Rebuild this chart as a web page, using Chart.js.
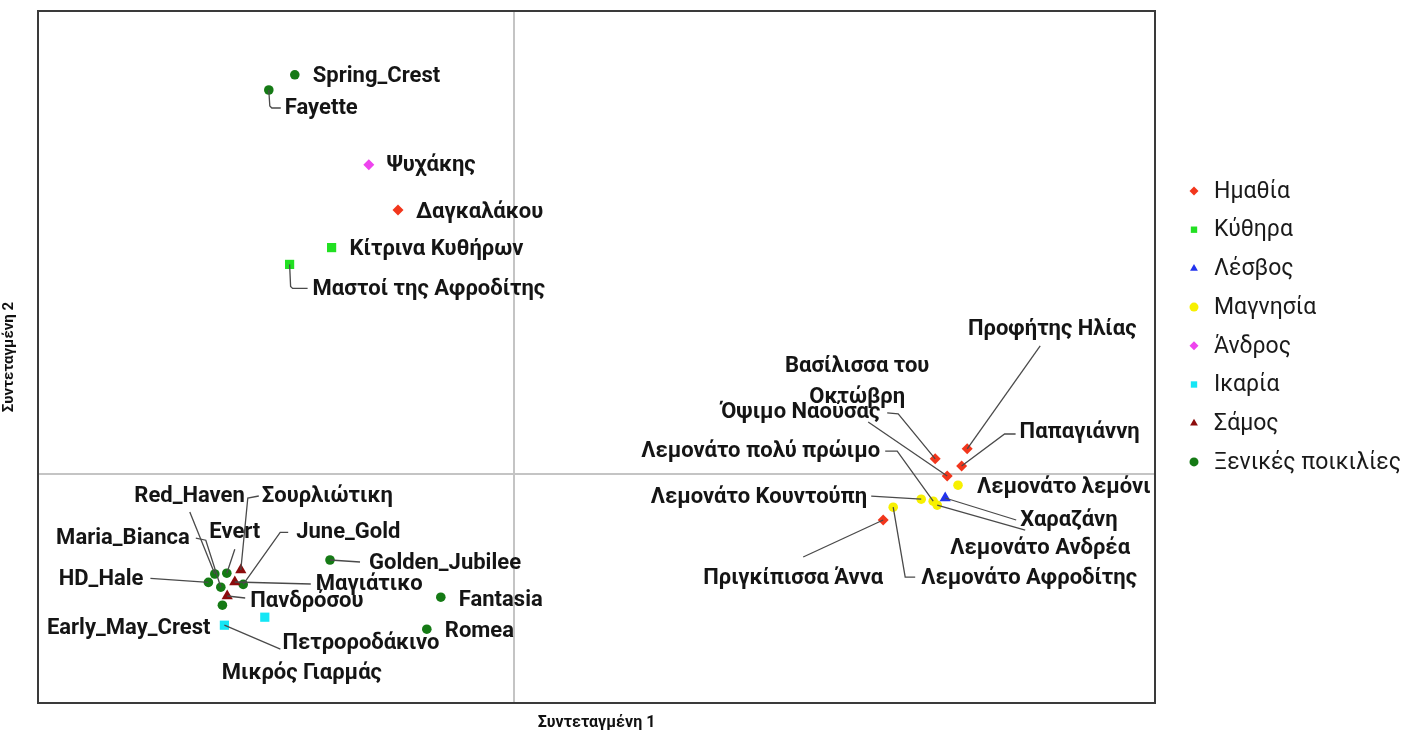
<!DOCTYPE html>
<html>
<head>
<meta charset="utf-8">
<script src="https://cdn.jsdelivr.net/npm/chart.js@4.4.1/dist/chart.umd.min.js"></script>
<style>
	html, body { margin: 0; padding: 0; background: #fff; }
</style>
</head>
<body>
<canvas id="grafica" width="1410" height="733"></canvas>
<script>
// grupos (leyenda)
const grupos = ['Ημαθία', 'Κύθηρα', 'Λέσβος', 'Μαγνησία', 'Άνδρος', 'Ικαρία', 'Σάμος', 'Ξενικές ποικιλίες'];

// valores por grupo: Συντεταγμένη 1 (x), Συντεταγμένη 2 (y)
const imathiaNombres = ['Δαγκαλάκου', 'Προφήτης Ηλίας', 'Όψιμο Ναούσας', 'Παπαγιάννη', 'Βασίλισσα του Οκτώβρη', 'Πριγκίπισσα Άννα'];
const imathiaX = [-0.290, 1.133, 1.053, 1.119, 1.083, 0.923];
const imathiaY = [0.660, 0.063, 0.038, 0.020, -0.005, -0.115];

const kythiraNombres = ['Κίτρινα Κυθήρων', 'Μαστοί της Αφροδίτης'];
const kythiraX = [-0.456, -0.561];
const kythiraY = [0.566, 0.524];

const lesvosNombres = ['Χαραζάνη'];
const lesvosX = [1.078];
const lesvosY = [-0.060];

const magnisiaNombres = ['Λεμονάτο λεμόνι', 'Λεμονάτο Κουντούπη', 'Λεμονάτο πολύ πρώιμο', 'Λεμονάτο Ανδρέα', 'Λεμονάτο Αφροδίτης'];
const magnisiaX = [1.110, 1.018, 1.048, 1.058, 0.948];
const magnisiaY = [-0.028, -0.063, -0.068, -0.078, -0.083];

const androsNombres = ['Ψυχάκης'];
const androsX = [-0.363];
const androsY = [0.773];

const ikariaNombres = ['Πετροροδάκινο', 'Μικρός Γιαρμάς'];
const ikariaX = [-0.724, -0.623];
const ikariaY = [-0.378, -0.358];

const samosNombres = ['Σουρλιώτικη', 'Μαγιάτικο', 'Πανδρόσου'];
const samosX = [-0.683, -0.698, -0.717];
const samosY = [-0.240, -0.270, -0.305];

const xenikesNombres = ['Spring_Crest', 'Fayette', 'Red_Haven', 'Evert', 'HD_Hale', 'June_Gold', 'Maria_Bianca', 'Early_May_Crest', 'Golden_Jubilee', 'Fantasia', 'Romea'];
const xenikesX = [-0.548, -0.613, -0.748, -0.718, -0.764, -0.677, -0.733, -0.729, -0.460, -0.183, -0.218];
const xenikesY = [0.998, 0.960, -0.250, -0.248, -0.271, -0.276, -0.283, -0.328, -0.215, -0.308, -0.388];

// estilo de cada grupo
const colores = ['#f2361c', '#22e022', '#2233ee', '#f7f000', '#ee44ee', '#14e6f5', '#8c0c0c', '#157a15'];
const simbolos = ['rectRot', 'rect', 'triangle', 'circle', 'rectRot', 'rect', 'triangle', 'circle'];
const radios = [5.5, 6.5, 6.5, 4.8, 5.5, 6.5, 6.5, 4.8];

// posicion de etiquetas: [dx, dy, alineacion, linea guia]
const etiquetasPos = {
	'Spring_Crest': [18, 2, 'left'],
	'Fayette': [16, 18, 'left', [[1, 16], [3, 18], [12, 18]]],
	'Ψυχάκης': [18, 1, 'left'],
	'Δαγκαλάκου': [18, 2, 'left'],
	'Κίτρινα Κυθήρων': [18, 2, 'left'],
	'Μαστοί της Αφροδίτης': [23, 25, 'left', [[1, 22], [3, 24], [18, 24]]],
	'Προφήτης Ηλίας': [85, -119, 'center', [[73, -103]]],
	'Όψιμο Ναούσας': [-55, -46, 'right', [[-37, -45], [-48, -46]]],
	'Βασίλισσα του Οκτώβρη': [-90, -110, 'center', [[-79, -54]]],
	'Παπαγιάννη': [58, -34, 'left', [[43, -32], [54, -32]]],
	'Λεμονάτο πολύ πρώιμο': [-53, -50, 'right', [[-36, -50], [-48, -50]]],
	'Λεμονάτο λεμόνι': [19, 2, 'left'],
	'Λεμονάτο Κουντούπη': [-54, -2, 'right', [[-50, -3]]],
	'Χαραζάνη': [75, 22, 'left', [[71, 22]]],
	'Λεμονάτο Ανδρέα': [103, 43, 'center', [[88, 25]]],
	'Λεμονάτο Αφροδίτης': [28, 71, 'left', [[12, 70], [22, 70]]],
	'Πριγκίπισσα Άννα': [-90, 58, 'center', [[-80, 37]]],
	'Red_Haven': [30, -78, 'right', [[-25, -62]]],
	'Σουρλιώτικη': [21, -74, 'left', [[7, -72], [18, -74]]],
	'Maria_Bianca': [-31, -49, 'right', [[-15, -47], [-25, -49]]],
	'Evert': [8, -41, 'center', [[8, -24]]],
	'June_Gold': [53, -52, 'left', [[37, -52], [45, -52]]],
	'Golden_Jubilee': [39, 3, 'left', [[30, 2]]],
	'HD_Hale': [-65, -3, 'right', [[-58, -4]]],
	'Μαγιάτικο': [81, 2, 'left', [[76, 2]]],
	'Πανδρόσου': [23, 5, 'left', [[18, 2]]],
	'Early_May_Crest': [-12, 23, 'right'],
	'Πετροροδάκινο': [58, 18, 'left', [[56, 24]]],
	'Μικρός Γιαρμάς': [37, 56, 'center'],
	'Fantasia': [18, 3, 'left'],
	'Romea': [18, 2, 'left'],
};
const saltos = { 'Βασίλισσα του Οκτώβρη': ['Βασίλισσα του', 'Οκτώβρη'] };

const nombres = [imathiaNombres, kythiraNombres, lesvosNombres, magnisiaNombres, androsNombres, ikariaNombres, samosNombres, xenikesNombres];
const valoresX = [imathiaX, kythiraX, lesvosX, magnisiaX, androsX, ikariaX, samosX, xenikesX];
const valoresY = [imathiaY, kythiraY, lesvosY, magnisiaY, androsY, ikariaY, samosY, xenikesY];

const datasets = grupos.map((g, i) => ({
	label: g,
	data: valoresX[i].map((x, j) => ({ x: x, y: valoresY[i][j], nombre: nombres[i][j] })),
	backgroundColor: colores[i],
	borderColor: colores[i],
	borderWidth: 0,
	pointStyle: simbolos[i],
	pointRadius: radios[i],
}));

const marco = {
	id: 'marco',
	beforeDatasetsDraw(chart) {
		const ctx = chart.ctx;
		const a = chart.chartArea;
		const x0 = chart.scales.x.getPixelForValue(0);
		const y0 = chart.scales.y.getPixelForValue(0);
		ctx.save();
		ctx.strokeStyle = '#c4c4c4';
		ctx.lineWidth = 2;
		ctx.beginPath();
		ctx.moveTo(x0, a.top);
		ctx.lineTo(x0, a.bottom);
		ctx.moveTo(a.left, y0);
		ctx.lineTo(a.right, y0);
		ctx.stroke();
		ctx.restore();
	},
	afterDraw(chart) {
		const ctx = chart.ctx;
		const a = chart.chartArea;
		ctx.save();
		ctx.strokeStyle = '#3a3a3a';
		ctx.lineWidth = 2;
		ctx.strokeRect(a.left, a.top, a.right - a.left, a.bottom - a.top);

		// leyenda
		ctx.font = '23px Roboto';
		ctx.textBaseline = 'middle';
		ctx.textAlign = 'left';
		grupos.forEach((g, i) => {
			const y = 191 + i * 38.7;
			ctx.fillStyle = colores[i];
			Chart.helpers.drawPoint(ctx, { pointStyle: simbolos[i], radius: 4.5, rotation: 0, borderWidth: 0 }, 1194, y);
			ctx.fillStyle = '#1a1a1a';
			ctx.fillText(g, 1214, y + 1);
		});
		ctx.restore();
	},
};

const etiquetas = {
	id: 'etiquetas',
	afterDatasetsDraw(chart) {
		const ctx = chart.ctx;
		const a = chart.chartArea;
		ctx.save();
		ctx.beginPath();
		ctx.rect(a.left + 1, a.top, a.right - a.left - 1, a.bottom - a.top);
		ctx.clip();
		ctx.font = 'bold 22px Roboto';
		ctx.textBaseline = 'middle';
		chart.data.datasets.forEach((ds, d) => {
			const meta = chart.getDatasetMeta(d);
			meta.data.forEach((pt, i) => {
				const nombre = ds.data[i].nombre;
				const pos = etiquetasPos[nombre];
				if (!pos) return;
				if (pos[3]) {
					ctx.strokeStyle = '#4a4a4a';
					ctx.lineWidth = 1.3;
					ctx.beginPath();
					ctx.moveTo(pt.x, pt.y);
					pos[3].forEach((p) => ctx.lineTo(pt.x + p[0], pt.y + p[1]));
					ctx.stroke();
				}
				ctx.fillStyle = '#151515';
				ctx.textAlign = pos[2];
				const lineas = saltos[nombre] || [nombre];
				lineas.forEach((t, k) => ctx.fillText(t, pt.x + pos[0], pt.y + pos[1] + k * 31));
			});
		});
		ctx.restore();
	},
};

const grafica = new Chart(document.getElementById('grafica'), {
	type: 'scatter',
	data: { datasets: datasets },
	options: {
		responsive: false,
		animation: false,
		events: [],
		layout: { padding: { top: 11, right: 255, left: 0, bottom: 0 } },
		plugins: { legend: { display: false }, tooltip: { enabled: false } },
		scales: {
			x: {
				min: -1.19,
				max: 1.6025,
				ticks: { display: false },
				grid: { display: false },
				border: { display: false },
				title: {
					display: true,
					text: 'Συντεταγμένη 1',
					color: '#111',
					font: { family: 'Roboto', size: 16, weight: 'bold' },
					padding: { top: 5, bottom: 0 },
				},
				afterFit: (s) => { s.height = 30; },
			},
			y: {
				min: -0.5725,
				max: 1.1575,
				ticks: { display: false },
				grid: { display: false },
				border: { display: false },
				title: {
					display: true,
					text: 'Συντεταγμένη 2',
					color: '#111',
					font: { family: 'Roboto', size: 15, weight: 'bold' },
					padding: { top: 0, bottom: 4 },
				},
				afterFit: (s) => { s.width = 38; },
			},
		},
	},
	plugins: [marco, etiquetas],
});
</script>
</body>
</html>
